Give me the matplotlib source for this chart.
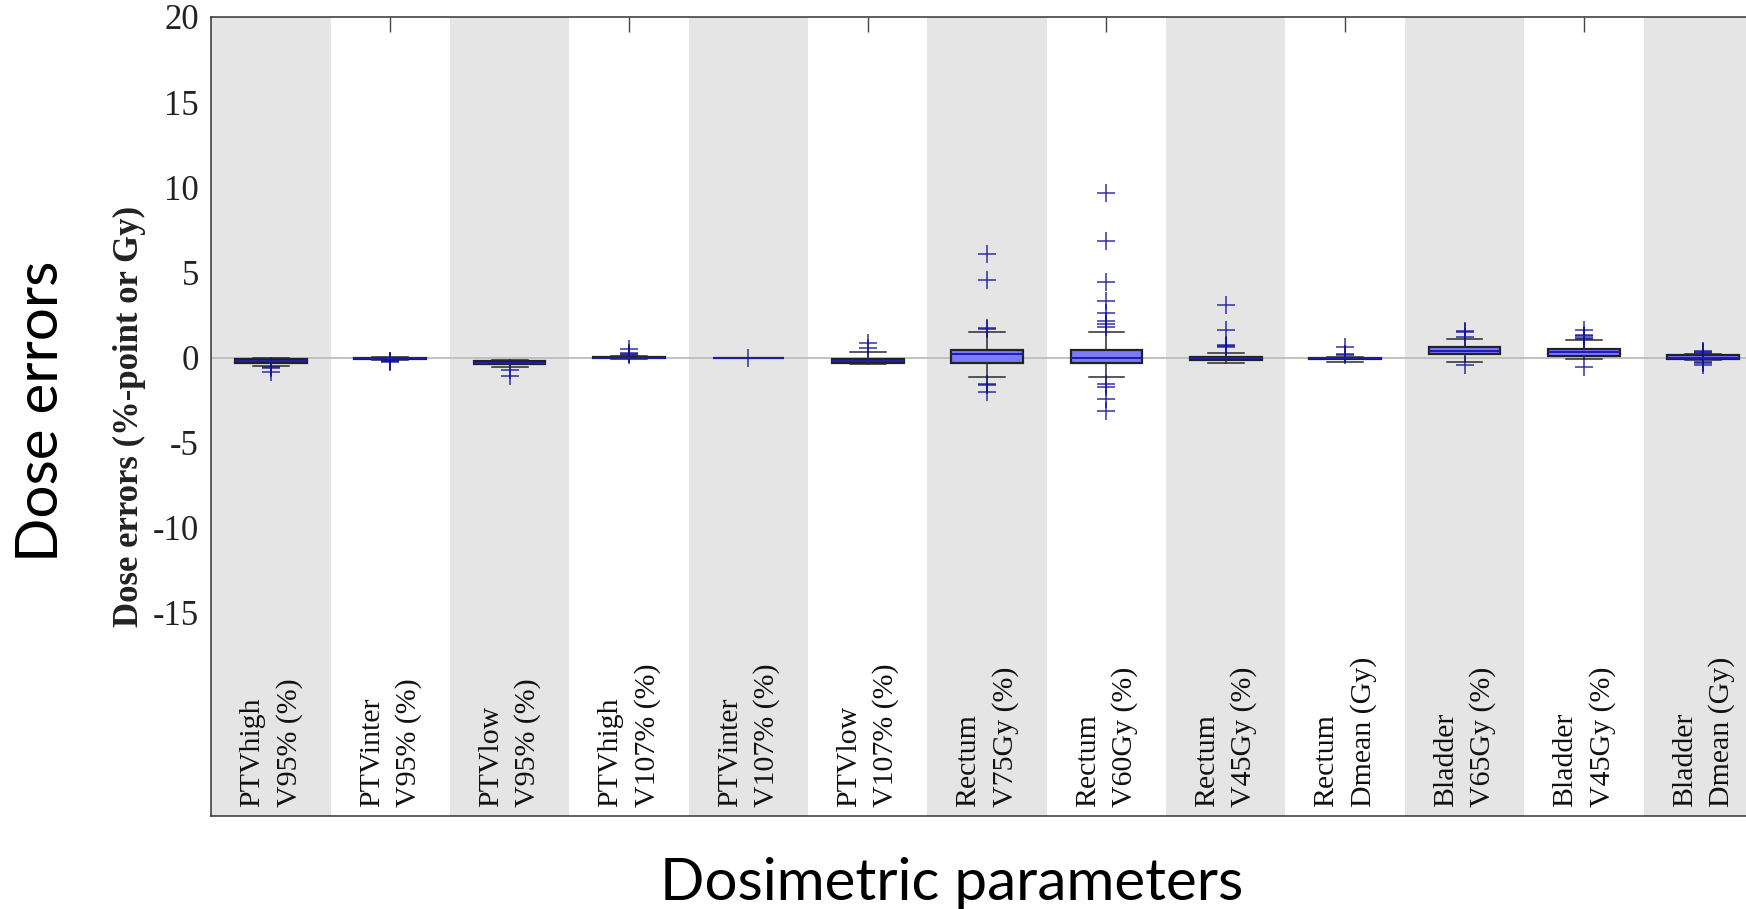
"""Dose error boxplots per dosimetric parameter (recreated figure)."""
import matplotlib

matplotlib.use("Agg")
import matplotlib.pyplot as plt

LABELS = [
    "PTVhigh\nV95% (%)", "PTVinter\nV95% (%)", "PTVlow\nV95% (%)",
    "PTVhigh\nV107% (%)", "PTVinter\nV107% (%)", "PTVlow\nV107% (%)",
    "Rectum\nV75Gy (%)", "Rectum\nV60Gy (%)", "Rectum\nV45Gy (%)",
    "Rectum\nDmean (Gy)", "Bladder\nV65Gy (%)", "Bladder\nV45Gy (%)",
    "Bladder\nDmean (Gy)",
]

# box statistics
MEDIANS = [-0.20, -0.04, -0.30, 0.00, 0.00, -0.20, 0.19, -0.05, -0.05, -0.04, 0.40, 0.30, 0.00]
Q1 = [-0.32, -0.08, -0.40, -0.04, 0.00, -0.35, -0.30, -0.30, -0.15, -0.08, 0.19, 0.09, -0.07]
Q3 = [-0.11, 0.00, -0.19, 0.04, 0.00, -0.06, 0.44, 0.44, 0.05, 0.00, 0.62, 0.52, 0.12]
WHISLO = [-0.48, -0.14, -0.56, -0.10, 0.00, -0.38, -1.13, -1.13, -0.30, -0.25, -0.28, -0.07, -0.17]
WHISHI = [-0.05, 0.02, -0.13, 0.10, 0.00, 0.35, 1.50, 1.50, 0.28, 0.02, 1.09, 1.00, 0.22]
FLIERS = [
    [-0.58, -0.62, -0.88],
    [-0.18, -0.21, -0.25],
    [-0.73, -1.10],
    [0.15, 0.20, 0.25, 0.50],
    [-0.05],
    [0.55, 0.85],
    [1.65, 1.75, 4.53, 6.08, -1.55, -1.60, -2.05],
    [1.81, 1.95, 2.12, 2.63, 3.32, 4.43, 6.82, 9.68, -1.55, -1.75, -2.42, -3.16],
    [0.60, 0.65, 0.75, 1.60, 3.06],
    [0.15, 0.20, 0.60],
    [1.18, 1.47, 1.57, -0.46],
    [1.07, 1.15, 1.25, 1.34, 1.62, -0.58],
    [0.25, 0.30, 0.40, -0.25, -0.30, -0.45],
]
YTICKS = [20, 15, 10, 5, 0, -5, -10, -15]

SERIF = "Liberation Serif"
SANS = "Lato"


def main() -> None:
    fig = plt.figure(figsize=(17.46, 9.09), dpi=100)
    ax = fig.add_axes([0.121, 0.1023, 0.8887, 0.879])

    positions = list(range(1, len(LABELS) + 1))
    stats = [
        dict(med=m, q1=a, q3=b, whislo=lo, whishi=hi, fliers=f)
        for m, a, b, lo, hi, f in zip(MEDIANS, Q1, Q3, WHISLO, WHISHI, FLIERS)
    ]

    # alternating grey bands
    for p in positions:
        if p % 2 == 1:
            ax.axvspan(p - 0.5, p + 0.5, color="#e5e5e5", lw=0, zorder=0.8)
    ax.axhline(0, color="#bdbdbd", lw=1.3, zorder=1.5)

    ax.bxp(
        stats, positions=positions, widths=0.6, capwidths=0.3, patch_artist=True,
        boxprops=dict(facecolor="#7a7aff", edgecolor="#222222", linewidth=1.6),
        medianprops=dict(color="#1c1cb0", linewidth=1.4),
        whiskerprops=dict(color="#2b2b2b", linewidth=1.1, linestyle="-"),
        capprops=dict(color="#2b2b2b", linewidth=1.1),
        flierprops=dict(marker="+", markeredgecolor="#10109a", markersize=13,
                        markeredgewidth=1.1, linestyle="none", alpha=0.85),
    )

    ax.set_xlim(0.5, 13.5)
    ax.set_ylim(-26.93, 20)
    ax.set_axisbelow(True)

    ax.set_xticks(positions)
    ax.set_xticklabels([])
    ax.tick_params(axis="x", bottom=False, top=True, direction="in", length=11,
                   width=1.0, color="#444444", labelbottom=False)
    ax.set_yticks(YTICKS)
    ax.set_yticklabels([str(t) for t in YTICKS], family=SERIF, fontsize=25, color="#222222")
    ax.tick_params(axis="y", length=0, pad=9)

    for s in ["top", "left", "bottom"]:
        ax.spines[s].set_color("#333333")
        ax.spines[s].set_linewidth(1.1)
    ax.spines["right"].set_visible(False)

    for p, lab in zip(positions, LABELS):
        ax.text(p, -26.4, lab, rotation=90, ha="center", va="bottom",
                multialignment="left", family=SERIF, fontsize=21.5,
                linespacing=1.5, color="#111111")

    ax.set_ylabel("Dose errors (%-point or Gy)", family=SERIF, fontweight="bold",
                  fontsize=25, color="#222222")
    ax.yaxis.set_label_coords(-0.042, 0.5)

    fig.text(0.024, 0.547, "Dose errors", rotation=90, ha="center", va="center",
             family=SANS, fontsize=42)
    fig.text(0.545, 0.0099, "Dosimetric parameters", ha="center", va="baseline",
             family=SANS, fontsize=42)

    fig.savefig("out.png", dpi=100)
    plt.close(fig)


if __name__ == "__main__":
    main()
